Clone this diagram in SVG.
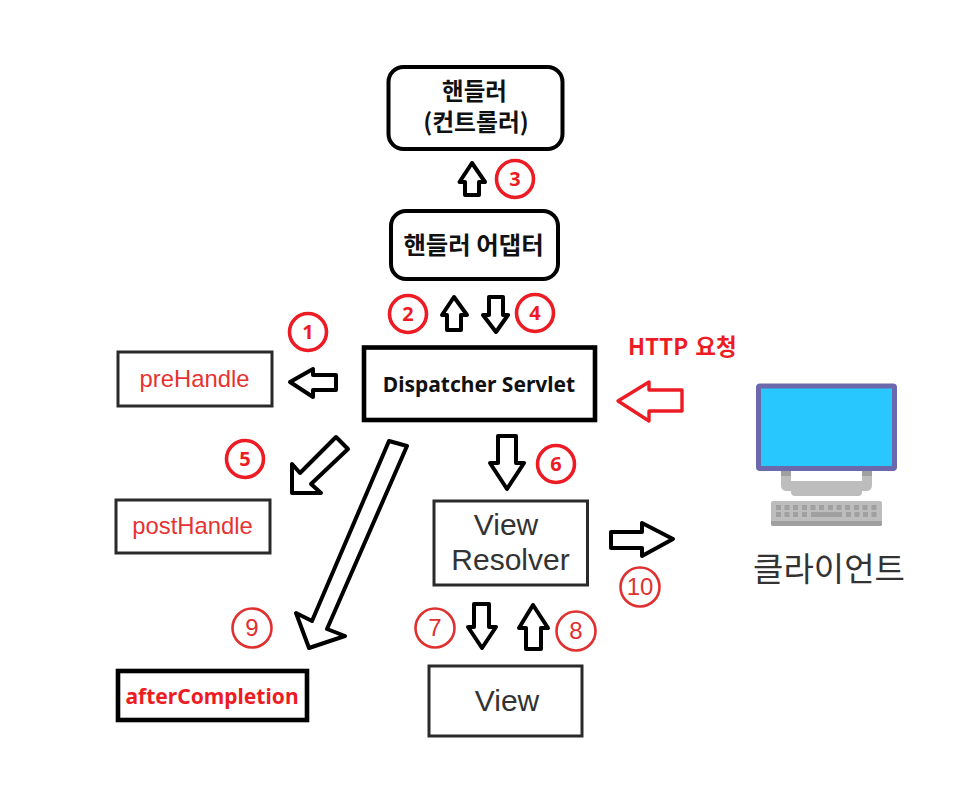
<svg xmlns="http://www.w3.org/2000/svg" width="966" height="806" viewBox="0 0 966 806">
<style>
.box{fill:#fff;stroke:#000}
.thin{fill:#fff;stroke:#2a2a2a;stroke-width:3}
.arr{fill:#fff;stroke:#000;stroke-width:4;stroke-linejoin:round}
.ko{font-family:"Noto Sans CJK KR","Noto Sans",sans-serif;font-weight:700;text-anchor:middle;fill:#111}
.sans{font-family:"Liberation Sans",Arial,sans-serif;text-anchor:middle}
.b1{fill:#fff;stroke:#ed1c24;stroke-width:3.6}
.b1t{font-family:"Noto Sans","Liberation Sans",sans-serif;font-weight:700;font-size:20px;fill:#ed1c24;text-anchor:middle}
.b2{fill:#fff;stroke:#e03030;stroke-width:2.6}
.b2t{font-family:"Liberation Sans",Arial,sans-serif;font-size:24px;fill:#e03030;text-anchor:middle}
</style>
<rect width="966" height="806" fill="#fff"/>
<g id="connectors">
<polygon class="arr" points="472,163 485,182 479,182 479,195 465,195 465,182 459.500,182"/>
<polygon class="arr" points="454,297 467,315 461,315 461,330 447,330 447,315 442,315"/>
<polygon class="arr" points="496,332 508,315 503,315 503,297 489,297 489,315 483,315"/>
<polygon class="arr" points="290,382 313,369 313,375 336,375 336,390 313,390 313,397"/>
<polygon class="arr" points="336,437 348,449 311,484 321,493 292,493 292,464 300,473"/>
<polygon class="arr" points="389,441 407,446 327,629 345,636 309,648 296,613 312,621"/>
<polygon class="arr" points="507,489 524,463 516,463 516,436 498,436 498,463 490,463"/>
<polygon class="arr" points="482,648 496,627 489,627 489,604 474,604 474,627 468,627"/>
<polygon class="arr" points="533,605 548,628 541,628 541,649 526,649 526,628 519,628"/>
<polygon class="arr" points="673,539 642,523 642,532 611,532 611,548 642,548 642,556"/>
<polygon points="618,401 649,382 649,390 682,390 682,411 649,411 649,421" fill="#fff" stroke="#ed1c24" stroke-width="3.400" stroke-linejoin="round"/>
</g>
<g id="handler">
<rect class="box" stroke-width="4" x="388.500" y="67" width="174" height="82" rx="15"/>
<text class="ko" font-size="23.500" x="474.500" y="100"><tspan>핸들러</tspan></text>
<text class="ko" font-size="23.800" x="476" y="131">(컨트롤러)</text>
</g>
<g id="handler-adapter">
<rect class="box" stroke-width="4" x="391" y="211" width="167" height="68" rx="15"/>
<text class="ko" font-size="24.400" x="473.500" y="254">핸들러 어댑터</text>
</g>
<g id="dispatcher-servlet">
<rect class="box" stroke-width="4.600" x="364" y="347.500" width="231" height="72.500"/>
<text font-family="'Noto Sans','Open Sans',sans-serif" font-weight="700" font-size="21px" fill="#111" text-anchor="middle" x="479" y="392">Dispatcher Servlet</text>
</g>
<g id="prehandle">
<rect class="thin" x="118" y="352" width="154" height="54"/>
<text class="sans" font-size="23.800px" fill="#e63232" x="194.500" y="387">preHandle</text>
</g>
<g id="posthandle">
<rect class="thin" x="116" y="500" width="154" height="53"/>
<text class="sans" font-size="23.800px" fill="#e63232" x="192.500" y="534">postHandle</text>
</g>
<g id="aftercompletion">
<rect class="box" stroke-width="4.600" x="118" y="671" width="189" height="49"/>
<text font-family="'Noto Sans','Open Sans',sans-serif" font-weight="700" font-size="21px" fill="#ed1c24" text-anchor="middle" x="212" y="704">afterCompletion</text>
</g>
<g id="view-resolver">
<rect class="thin" x="434" y="501" width="153.500" height="84"/>
<text class="sans" font-size="30px" fill="#333" x="506" y="535">View</text>
<text class="sans" font-size="30px" fill="#333" x="510.500" y="570">Resolver</text>
</g>
<g id="view">
<rect class="thin" x="429" y="666" width="153" height="70"/>
<text class="sans" font-size="30px" fill="#333" x="507" y="711">View</text>
</g>
<g id="client">
<rect x="756" y="383.500" width="141" height="87.500" rx="4" fill="#6b69ac"/>
<rect x="761" y="388.500" width="131" height="77.500" fill="#28c8ff"/>
<path d="M781 471H872V485Q872 491 866 491H862V492Q862 496 858 496H795Q791 496 791 492V491H787Q781 491 781 485Z" fill="#bdbdbd"/>
<rect x="781" y="471" width="10" height="5" fill="#a0a0a0"/>
<rect x="862" y="471" width="10" height="5" fill="#a0a0a0"/>
<rect x="791" y="471" width="71" height="10" fill="#fff"/>
<rect x="771" y="501" width="111" height="25" rx="2" fill="#bdbdbd"/>
<path d="M771 521H882V524Q882 526 880 526H773Q771 526 771 524Z" fill="#a0a0a0"/>
<path d="M776 507.500h5M784.500 507.500h5M793 507.500h5M802 507.500h5M810.500 507.500h5M819 507.500h5M828 507.500h5M836.500 507.500h5M845 507.500h5M854 507.500h5M862.500 507.500h5M871.500 507.500h5M776 514.500h5M784.500 514.500h5M793 514.500h5M802 514.500h5M811 514.500h31M846 514.500h5M854.500 514.500h5M863 514.500h5M871.500 514.500h5" stroke="#a0a0a0" stroke-width="5" fill="none"/>
<text font-family="'Noto Sans CJK KR',sans-serif" font-size="33px" fill="#333" text-anchor="middle" x="829" y="581">클라이언트</text>
</g>
<g id="http-label">
<text font-family="'Noto Sans CJK KR','Noto Sans',sans-serif" font-weight="700" font-size="22.500px" fill="#ed1c24" x="628" y="355" word-spacing="2">HTTP 요청</text>
</g>
<g id="step-1"><circle class="b1" cx="308" cy="332" r="18.500"/><text class="b1t" x="308" y="339">1</text></g>
<g id="step-2"><circle class="b1" cx="408" cy="314" r="18.500"/><text class="b1t" x="408" y="321">2</text></g>
<g id="step-3"><circle class="b1" cx="515" cy="179" r="18.500"/><text class="b1t" x="515" y="186">3</text></g>
<g id="step-4"><circle class="b1" cx="535" cy="313" r="18.500"/><text class="b1t" x="535" y="320">4</text></g>
<g id="step-5"><circle class="b1" cx="245" cy="459" r="18.500"/><text class="b1t" x="245" y="466">5</text></g>
<g id="step-6"><circle class="b1" cx="556" cy="464" r="18.500"/><text class="b1t" x="556" y="471">6</text></g>
<g id="step-7"><circle class="b2" cx="435" cy="628" r="19.500"/><text class="b2t" x="435" y="636">7</text></g>
<g id="step-8"><circle class="b2" cx="576" cy="631" r="19.500"/><text class="b2t" x="576" y="639">8</text></g>
<g id="step-9"><circle class="b2" cx="252" cy="628" r="19.500"/><text class="b2t" x="252" y="636">9</text></g>
<g id="step-10"><circle class="b2" cx="640" cy="587" r="19.500"/><text class="b2t" x="640" y="595">10</text></g>
</svg>
